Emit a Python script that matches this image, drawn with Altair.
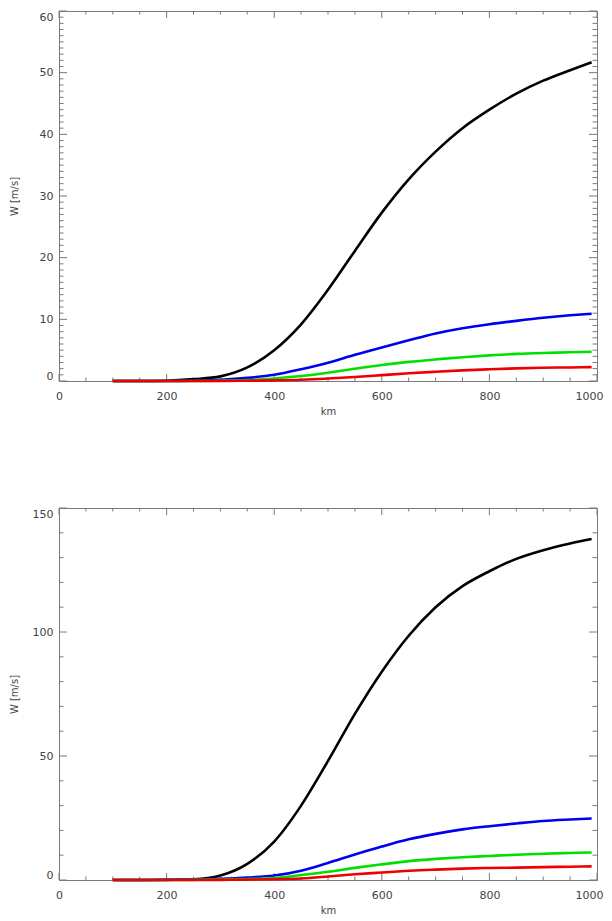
import altair as alt
import pandas as pd

# ---- data ----
KM = [100, 150, 200, 250, 300, 350, 400, 450, 500, 550, 600, 650, 700, 750, 800, 850, 900, 950, 990]

TOP_BLACK = [0, 0, 0.05, 0.3, 0.75, 2.2, 5.0, 9.2, 14.8, 21.1, 27.3, 32.7, 37.2, 41.0, 44.0, 46.6, 48.7, 50.4, 51.7]
TOP_BLUE = [0, 0, 0, 0.05, 0.2, 0.5, 1.0, 1.9, 2.95, 4.25, 5.45, 6.6, 7.7, 8.55, 9.2, 9.75, 10.25, 10.65, 10.9]
TOP_GREEN = [0, 0, 0, 0, 0.05, 0.15, 0.4, 0.8, 1.35, 2.0, 2.6, 3.1, 3.5, 3.85, 4.15, 4.4, 4.55, 4.65, 4.75]
TOP_RED = [0, 0, 0, 0, 0, 0.05, 0.1, 0.2, 0.4, 0.65, 0.95, 1.25, 1.5, 1.72, 1.9, 2.05, 2.15, 2.2, 2.25]

BOT_BLACK = [0, 0, 0.1, 0.3, 1.8, 6.5, 15.5, 30, 48, 67, 84, 98.5, 110, 118.5, 124.5, 129.5, 133, 135.7, 137.5]
BOT_BLUE = [0, 0, 0.05, 0.2, 0.5, 1.0, 1.8, 3.75, 6.9, 10.3, 13.5, 16.4, 18.6, 20.4, 21.7, 22.8, 23.8, 24.4, 24.8]
BOT_GREEN = [0, 0, 0, 0.05, 0.2, 0.4, 0.8, 2.0, 3.3, 4.9, 6.3, 7.6, 8.5, 9.2, 9.7, 10.2, 10.6, 10.9, 11.1]
BOT_RED = [0, 0, 0, 0, 0.05, 0.15, 0.3, 0.6, 1.4, 2.3, 3.0, 3.7, 4.2, 4.6, 4.85, 5.0, 5.2, 5.35, 5.5]

SERIES_COLORS = ["#000000", "#0000ee", "#00e000", "#ee0000"]

X_LABELS = [0, 200, 400, 600, 800, 1000]
X_MINOR = [v for v in range(0, 1001, 50) if v not in X_LABELS]

TOP_Y_LABELS = [0, 10, 20, 30, 40, 50, 60]
TOP_Y_MINOR = [v for v in range(0, 61) if v not in TOP_Y_LABELS]
BOT_Y_LABELS = [0, 50, 100, 150]
BOT_Y_MINOR = [v for v in range(0, 151, 10) if v not in BOT_Y_LABELS]

W_PX = 538
GRAY = "#7a7a7a"
FONT = "DejaVu Sans"


def panel(series, ymax, ylabels, yminor, height):
    xs = alt.Scale(domain=[0, 1000], nice=False, zero=False)
    ys = alt.Scale(domain=[0, ymax], nice=False, zero=True)
    xaxis = alt.Axis(
        values=X_LABELS, title="km", format="d", labelPadding=9,
        titlePadding=5, labelFlush=False,
        labelAlign={"condition": {"test": "datum.value == 1000", "value": "right"}, "value": "center"},
        labelOffset={"condition": {"test": "datum.value == 1000", "value": 6}, "value": 0},
    )
    yaxis = alt.Axis(values=ylabels, title="W [m/s]", format="d", labelPadding=6,
                     labelFlush=True, titleX=-40)

    layers = []
    # inward ticks on all four sides (positions from the scales)
    xmaj = pd.DataFrame({"km": X_LABELS})
    xmin = pd.DataFrame({"km": X_MINOR})
    ymaj = pd.DataFrame({"W": ylabels})
    ymn = pd.DataFrame({"W": yminor})
    for df, ln in ((xmaj, 7), (xmin, 3.5)):
        layers.append(alt.Chart(df).mark_rule(color=GRAY, strokeWidth=1).encode(
            x=alt.X("km:Q", scale=xs, axis=xaxis),
            y=alt.value(height), y2=alt.value(height - ln)))
        layers.append(alt.Chart(df).mark_rule(color=GRAY, strokeWidth=1).encode(
            x=alt.X("km:Q", scale=xs, axis=xaxis),
            y=alt.value(0), y2=alt.value(ln)))
    for df, ln in ((ymaj, 8), (ymn, 4.5)):
        layers.append(alt.Chart(df).mark_rule(color=GRAY, strokeWidth=1).encode(
            y=alt.Y("W:Q", scale=ys, axis=yaxis),
            x=alt.value(0), x2=alt.value(ln)))
        layers.append(alt.Chart(df).mark_rule(color=GRAY, strokeWidth=1).encode(
            y=alt.Y("W:Q", scale=ys, axis=yaxis),
            x=alt.value(W_PX), x2=alt.value(W_PX - ln)))

    for vals, col in zip(series, SERIES_COLORS):
        df = pd.DataFrame({"km": KM, "W": vals})
        layers.append(alt.Chart(df).mark_line(color=col, strokeWidth=2.6,
                                              interpolate="monotone").encode(
            x=alt.X("km:Q", scale=xs, axis=xaxis),
            y=alt.Y("W:Q", scale=ys, axis=yaxis)))

    return alt.layer(*layers).properties(width=W_PX, height=height)


top = panel([TOP_BLACK, TOP_BLUE, TOP_GREEN, TOP_RED], 60, TOP_Y_LABELS, TOP_Y_MINOR, 370)
bottom = panel([BOT_BLACK, BOT_BLUE, BOT_GREEN, BOT_RED], 150, BOT_Y_LABELS, BOT_Y_MINOR, 372)

chart = alt.vconcat(top, bottom, spacing=90).properties(
    padding={"left": 0, "top": 2, "right": 0, "bottom": 0}
).configure_view(
    stroke=GRAY, strokeWidth=1
).configure_axis(
    grid=False, ticks=False, tickSize=0, domain=False,
    labelFont=FONT, labelFontSize=11, labelColor="#444444",
    titleFont=FONT, titleFontSize=10, titleColor="#444444", titleFontWeight="normal"
)

chart.save("out.html", embed_options={"renderer": "svg", "actions": False})
